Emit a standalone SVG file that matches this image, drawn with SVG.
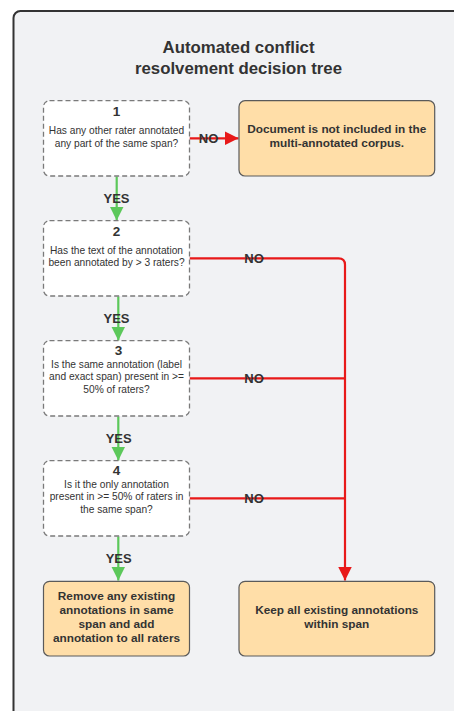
<svg xmlns="http://www.w3.org/2000/svg" width="454" height="711" viewBox="0 0 454 711">
<defs>
<style>
.q{fill:#ffffff;stroke:#7a7a7a;stroke-width:1.3;stroke-dasharray:5 3}
.r{fill:#ffdea8;stroke:#5a5a5a;stroke-width:1.2}
.t{font-family:"Liberation Sans",Arial,sans-serif;fill:#333333;text-anchor:middle}
.n{font-size:13.5px;font-weight:bold}
.s{font-size:10.2px}
.b{font-size:11.8px;font-weight:bold}
.lbl{font-family:"Liberation Sans",Arial,sans-serif;fill:#333333;font-size:13px;font-weight:bold;text-anchor:middle}
.red{fill:none;stroke:#e81919;stroke-width:2.2}
.grn{fill:none;stroke:#5cc85a;stroke-width:2.2}
</style>
<marker id="ar" viewBox="0 0 10 10" refX="10" refY="5" markerWidth="14" markerHeight="14" markerUnits="userSpaceOnUse" orient="auto"><path d="M0,0 L10,5 L0,10 Z" fill="#e81919"/></marker>
<marker id="ag" viewBox="0 0 10 10" refX="10" refY="5" markerWidth="14" markerHeight="14" markerUnits="userSpaceOnUse" orient="auto"><path d="M0,0 L10,5 L0,10 Z" fill="#5cc85a"/></marker>
</defs>
<rect x="0" y="0" width="454" height="711" fill="#ffffff"/>
<rect x="13.5" y="11" width="460" height="720" rx="7" fill="#f1f2f4" stroke="#333333" stroke-width="2"/>
<g id="title">
<text class="t" x="238.5" y="53" font-size="16.8" font-weight="bold">Automated conflict</text>
<text class="t" x="238.5" y="74" font-size="16.8" font-weight="bold">resolvement decision tree</text>
</g>
<g id="connectors">
<path class="red" d="M189.5,138.3 H238.5" marker-end="url(#ar)"/>
<path class="red" d="M189.5,258.3 H338.5 Q345,258.3 345,264.8 V580.5" marker-end="url(#ar)"/>
<path class="red" d="M189.5,378.3 H345"/>
<path class="red" d="M189.5,498.3 H345"/>
<path class="grn" d="M116.7,176.5 V220.5" marker-end="url(#ag)"/>
<path class="grn" d="M118.3,296.5 V340.5" marker-end="url(#ag)"/>
<path class="grn" d="M118.3,416.5 V460.5" marker-end="url(#ag)"/>
<path class="grn" d="M118.3,536.5 V580.5" marker-end="url(#ag)"/>
<text class="lbl" x="208.5" y="142.5">NO</text>
<text class="lbl" x="254" y="262.5">NO</text>
<text class="lbl" x="254" y="382.5">NO</text>
<text class="lbl" x="254" y="502.5">NO</text>
<text class="lbl" x="116.5" y="202.5">YES</text>
<text class="lbl" x="116.5" y="322.5">YES</text>
<text class="lbl" x="118.7" y="442.5">YES</text>
<text class="lbl" x="118.7" y="562.5">YES</text>
</g>
<g id="node1">
<rect class="q" x="43.5" y="100.7" width="146" height="75.3" rx="6"/>
<text class="t n" x="116.5" y="115.5">1</text>
<text class="t s" x="116.5" y="134.3">Has any other rater annotated</text>
<text class="t s" x="116.5" y="146.7">any part of the same span?</text>
</g>
<g id="result1">
<rect class="r" x="239" y="100.7" width="195.7" height="75.3" rx="6"/>
<text class="t b" x="336.8" y="133">Document is not included in the</text>
<text class="t b" x="336.8" y="147">multi-annotated corpus.</text>
</g>
<g id="node2">
<rect class="q" x="43.5" y="220.7" width="146" height="75.3" rx="6"/>
<text class="t n" x="116.5" y="235.5">2</text>
<text class="t s" x="116.5" y="253.5">Has the text of the annotation</text>
<text class="t s" x="116.5" y="266">been annotated by &gt; 3 raters?</text>
</g>
<g id="node3">
<rect class="q" x="43.5" y="340.7" width="146" height="75.3" rx="6"/>
<text class="t n" x="118.5" y="355">3</text>
<text class="t s" x="116.5" y="367.5">Is the same annotation (label</text>
<text class="t s" x="116.5" y="380">and exact span) present in &gt;=</text>
<text class="t s" x="116.5" y="392.5">50% of raters?</text>
</g>
<g id="node4">
<rect class="q" x="43.5" y="460.7" width="146" height="75.3" rx="6"/>
<text class="t n" x="116.5" y="475">4</text>
<text class="t s" x="116.5" y="487.5">Is it the only annotation</text>
<text class="t s" x="116.5" y="500">present in &gt;= 50% of raters in</text>
<text class="t s" x="116.5" y="512.5">the same span?</text>
</g>
<g id="result2">
<rect class="r" x="43.5" y="581.3" width="146" height="74.7" rx="6"/>
<text class="t b" x="116.5" y="600">Remove any existing</text>
<text class="t b" x="116.5" y="614">annotations in same</text>
<text class="t b" x="116.5" y="628">span and add</text>
<text class="t b" x="116.5" y="642">annotation to all raters</text>
</g>
<g id="result3">
<rect class="r" x="239" y="581.3" width="195.7" height="74.7" rx="6"/>
<text class="t b" x="336.8" y="613.5">Keep all existing annotations</text>
<text class="t b" x="336.8" y="627.5">within span</text>
</g>
</svg>
